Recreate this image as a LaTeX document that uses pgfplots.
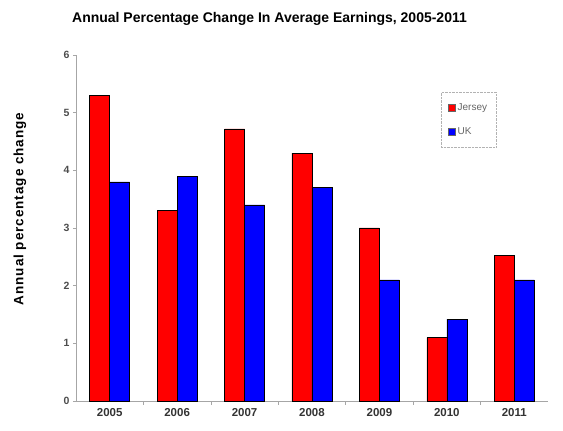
\documentclass[border=0pt]{standalone}
\usepackage{pgfplots}
\pgfplotsset{compat=1.18}
\usepackage{fontspec}
\setmainfont{Liberation Sans}
\begin{document}
\begin{tikzpicture}
\begin{axis}[
  scale only axis,
  width=472pt, height=346pt,
  ybar=0pt, bar width=20pt,
  xmin=-0.5, xmax=6.5,
  ymin=0, ymax=6,
  ytick={0,1,2,3,4,5,6},
  xtick=data,
  xticklabels={2005,2006,2007,2008,2009,2010,2011},
  minor xtick={0.5,1.5,2.5,3.5,4.5,5.5},
  axis x line*=bottom,
  axis y line*=left,
  axis line style={gray!70, line width=0.8pt},
  x tick style={draw=none},
  minor x tick style={draw=gray!70, line width=0.6pt},
  minor tick length=4pt,
  y tick style={gray!70, line width=0.6pt},
  tick align=outside,
  major tick length=3pt,
  /pgf/number format/assume math mode=true,
  yticklabel style={font=\bfseries\fontsize{10.5}{12}\selectfont, text=black!70},
  xticklabel style={font=\bfseries\fontsize{11.5}{13}\selectfont, text=black!80, yshift=-1pt},
  ylabel={\bfseries\addfontfeatures{LetterSpace=7}Annual percentage change},
  ylabel style={font=\fontsize{13.5}{15}\selectfont, at={(-56pt,0.555)}, anchor=center},
  legend style={at={(0.773,0.893)}, anchor=north west, draw=gray!60, densely dotted,
    font=\fontsize{10}{11}\selectfont, text=black!60, row sep=12pt, inner xsep=7pt, inner ysep=9pt},
  legend cell align=left,
  legend image code/.code={\draw[#1, solid, draw=black!60] (0pt,-3.5pt) rectangle (7pt,3.5pt);},
  clip=false,
]
\addplot[fill=red, draw=black, line width=0.6pt] coordinates {(0,5.3) (1,3.3) (2,4.72) (3,4.3) (4,3.0) (5,1.1) (6,2.52)};
\addplot[fill=blue, draw=black, line width=0.6pt] coordinates {(0,3.8) (1,3.9) (2,3.4) (3,3.7) (4,2.1) (5,1.42) (6,2.1)};
\legend{Jersey\hspace{8pt},UK}
\node[font=\bfseries\fontsize{14}{16}\selectfont, anchor=center] at (rel axis cs:0.41,1.104) {Annual Percentage Change In Average Earnings, 2005-2011};
\end{axis}
\useasboundingbox (-76pt,-30pt) rectangle (487pt,401pt);
\end{tikzpicture}
\end{document}
